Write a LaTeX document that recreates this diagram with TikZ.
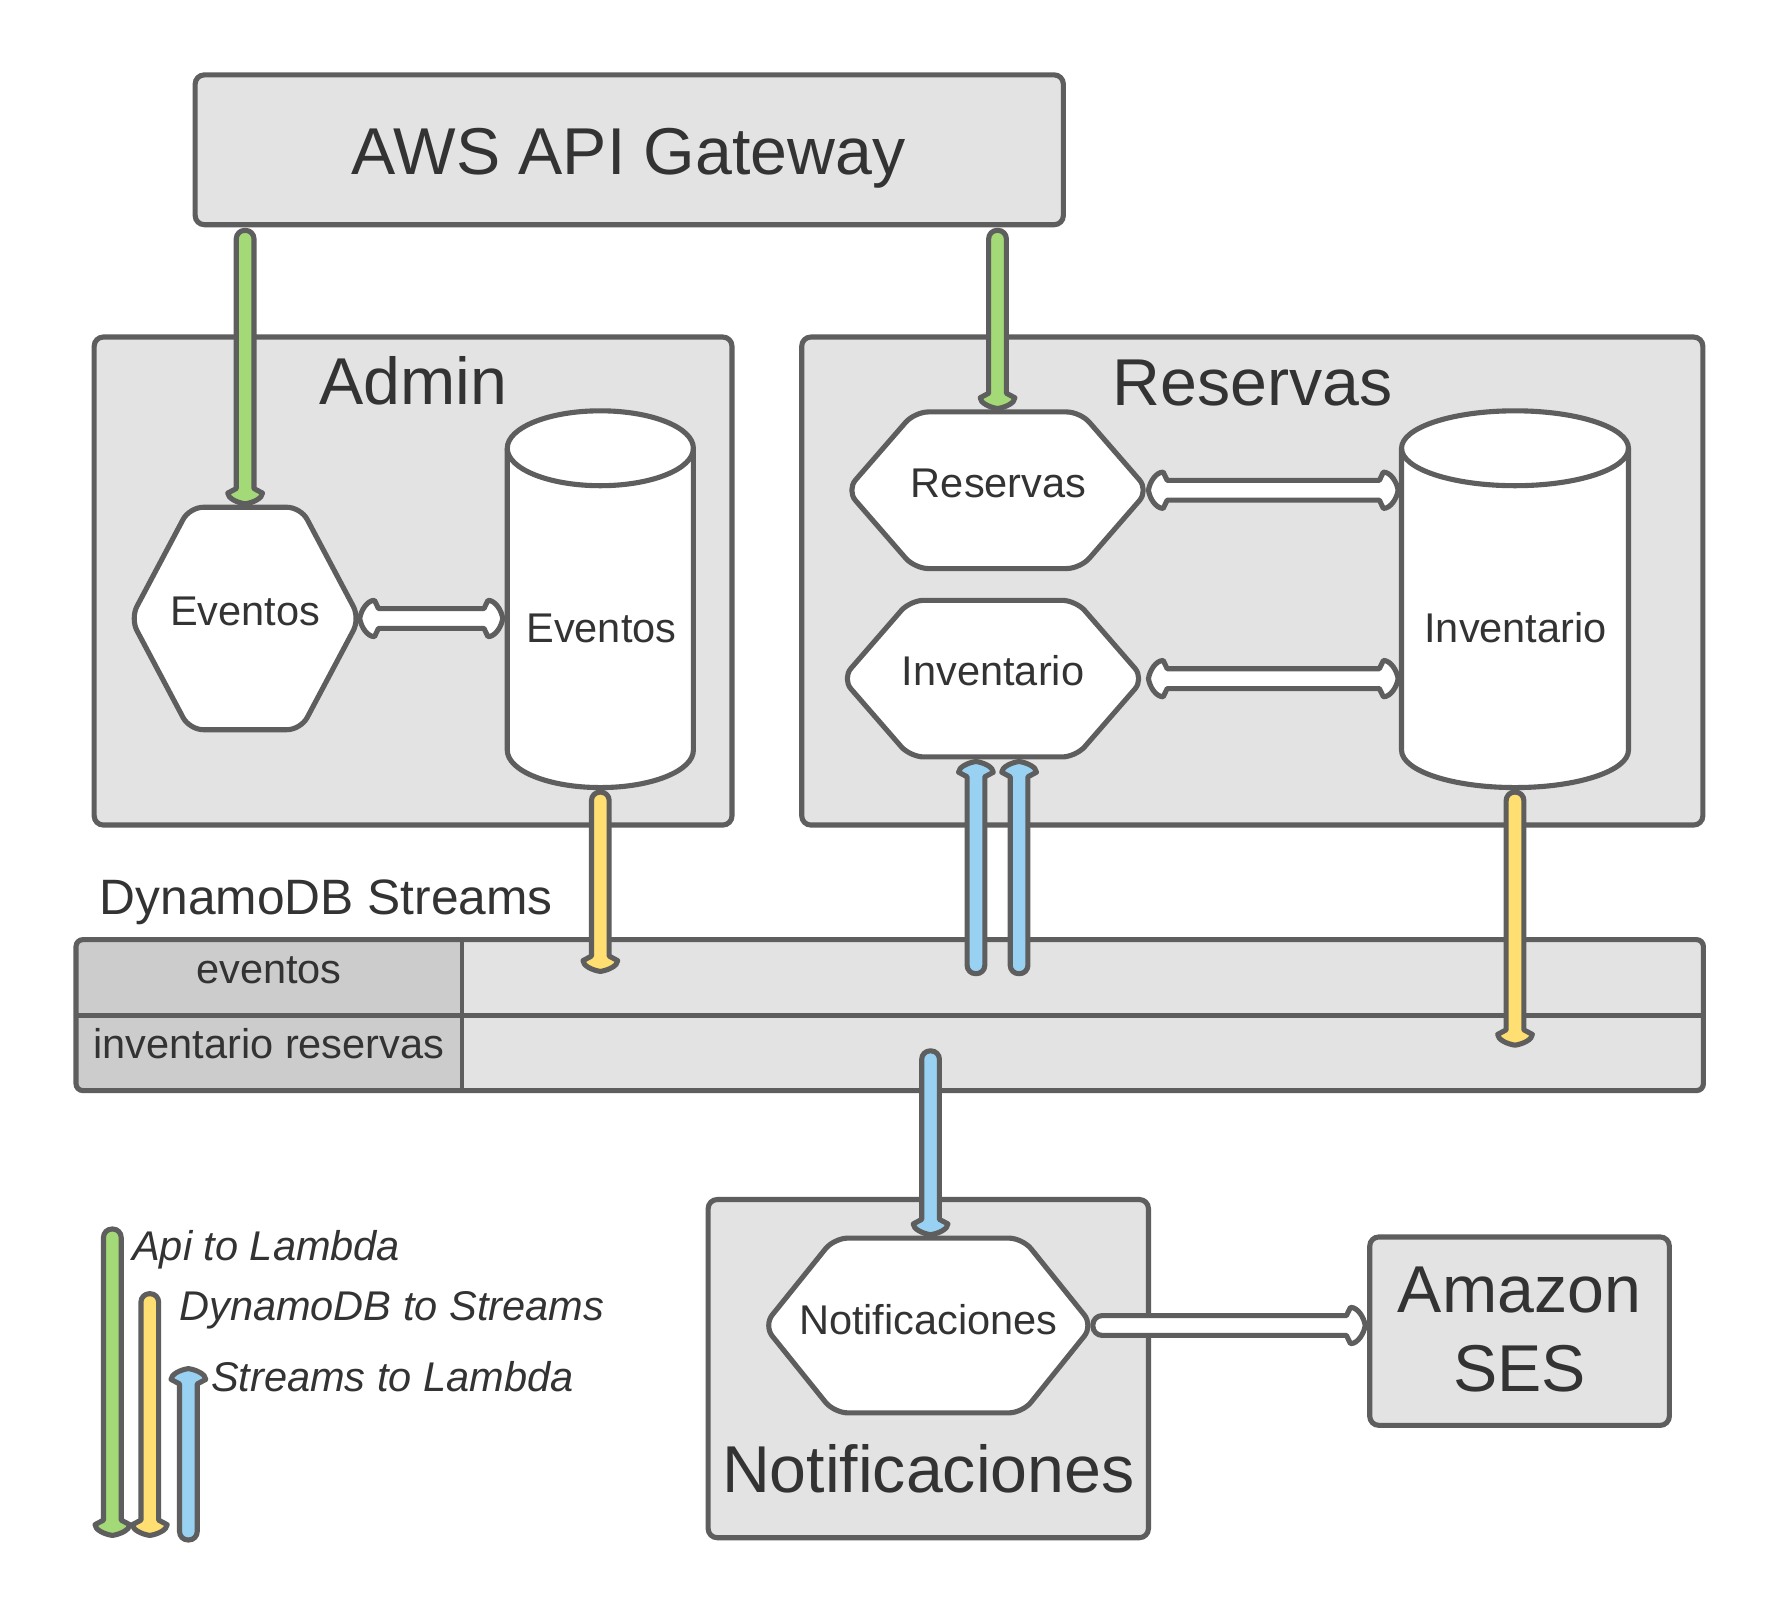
\documentclass[tikz,border=0pt]{standalone}
\usepackage{fontspec}
\setmainfont{Liberation Sans}
\usetikzlibrary{calc}
\definecolor{edgec}{HTML}{5E5E5E}
\definecolor{boxc}{HTML}{E3E3E3}
\definecolor{colc}{HTML}{CCCCCC}
\definecolor{txtc}{HTML}{333333}
\definecolor{greenc}{HTML}{A3D977}
\definecolor{yellowc}{HTML}{FFDF71}
\definecolor{bluec}{HTML}{99D1F3}
\newcommand\fbig{\fontsize{58.4}{70}\selectfont}
\newcommand\fmid{\fontsize{43.8}{52}\selectfont}
\newcommand\fsmall{\fontsize{36.6}{44}\selectfont}
\newcommand\hexdraw[5]{%
  \draw[hexst] ({#1-#3},#2) -- ({#1-#3+#5},{#2-#4}) -- ({#1+#3-#5},{#2-#4}) -- ({#1+#3},#2) -- ({#1+#3-#5},{#2+#4}) -- ({#1-#3+#5},{#2+#4}) -- cycle;}
\newcommand\cyldraw[5]{%
  \draw[cylst] ({#1-#4},#2) -- ({#1-#4},#3) arc[start angle=180,end angle=0,x radius=#4,y radius=#5] -- ({#1+#4},#2) arc[start angle=0,end angle=-180,x radius=#4,y radius=#5] -- cycle;
  \draw[cylst,fill=none] ({#1-#4},#2) arc[start angle=180,end angle=0,x radius=#4,y radius=#5];}
\begin{document}
\begin{tikzpicture}[x=1pt,y=-1pt,
  boxst/.style={draw=edgec, fill=boxc, line width=4.5pt, rounded corners=8pt, inner sep=0pt, outer sep=0pt},
  hexst/.style={draw=edgec, fill=white, line width=4.5pt, rounded corners=12pt, line join=round},
  cylst/.style={draw=edgec, fill=white, line width=4.5pt, line join=round},
  anch/.style={inner sep=0pt, outer sep=0pt, draw=none},
  lbl/.style={text=txtc, inner sep=0pt, outer sep=0pt, anchor=base},
  arrst/.style={draw=edgec, line width=4.5pt, line join=round},
  slimdims/.code={\def\ash{7.8pt}\def\ahw{15.3pt}\def\ahl{9.5pt}\def\ajn{13.5pt}\def\acd{5pt}\def\aco{7pt}\def\acr{7.4pt}},
  widedims/.code={\def\ash{8.75pt}\def\ahw{16pt}\def\ahl{13pt}\def\ajn{16.5pt}\def\acd{6.5pt}\def\aco{7pt}\def\acr{8.3pt}},
  fatone/.style={to path={
    ($(\tikztotarget)!\ajn!(\tikztostart)!\ash!-90:(\tikztostart)$)
    [rounded corners=\acr] -- ($(\tikztostart)!\ash!90:(\tikztotarget)$)
    -- ($(\tikztostart)!\ash!-90:(\tikztotarget)$)
    [sharp corners] -- ($(\tikztotarget)!\ajn!(\tikztostart)!\ash!90:(\tikztostart)$)
    -- ($(\tikztotarget)!\ahl!(\tikztostart)!\ahw!90:(\tikztostart)$)
    .. controls ($(\tikztotarget)!\acd!(\tikztostart)!\ahw!90:(\tikztostart)$) and ($(\tikztotarget)!1pt!(\tikztostart)!\aco!90:(\tikztostart)$) .. (\tikztotarget)
    .. controls ($(\tikztotarget)!1pt!(\tikztostart)!\aco!-90:(\tikztostart)$) and ($(\tikztotarget)!\acd!(\tikztostart)!\ahw!-90:(\tikztostart)$) .. ($(\tikztotarget)!\ahl!(\tikztostart)!\ahw!-90:(\tikztostart)$)
    -- cycle}},
  fattwo/.style={to path={
    (\tikztostart)
    .. controls ($(\tikztostart)!1pt!(\tikztotarget)!\aco!90:(\tikztotarget)$) and ($(\tikztostart)!\acd!(\tikztotarget)!\ahw!90:(\tikztotarget)$) .. ($(\tikztostart)!\ahl!(\tikztotarget)!\ahw!90:(\tikztotarget)$)
    -- ($(\tikztostart)!\ajn!(\tikztotarget)!\ash!90:(\tikztotarget)$)
    -- ($(\tikztotarget)!\ajn!(\tikztostart)!\ash!-90:(\tikztostart)$)
    -- ($(\tikztotarget)!\ahl!(\tikztostart)!\ahw!-90:(\tikztostart)$)
    .. controls ($(\tikztotarget)!\acd!(\tikztostart)!\ahw!-90:(\tikztostart)$) and ($(\tikztotarget)!1pt!(\tikztostart)!\aco!-90:(\tikztostart)$) .. (\tikztotarget)
    .. controls ($(\tikztotarget)!1pt!(\tikztostart)!\aco!90:(\tikztostart)$) and ($(\tikztotarget)!\acd!(\tikztostart)!\ahw!90:(\tikztostart)$) .. ($(\tikztotarget)!\ahl!(\tikztostart)!\ahw!90:(\tikztostart)$)
    -- ($(\tikztotarget)!\ajn!(\tikztostart)!\ash!90:(\tikztostart)$)
    -- ($(\tikztostart)!\ajn!(\tikztotarget)!\ash!-90:(\tikztotarget)$)
    -- ($(\tikztostart)!\ahl!(\tikztotarget)!\ahw!-90:(\tikztotarget)$)
    .. controls ($(\tikztostart)!\acd!(\tikztotarget)!\ahw!-90:(\tikztotarget)$) and ($(\tikztostart)!1pt!(\tikztotarget)!\aco!-90:(\tikztotarget)$) .. (\tikztostart)
    -- cycle}},
  slimarrow/.style={arrst, slimdims, fatone},
  whitearrow/.style={arrst, fill=white, widedims, fatone},
  whitedouble/.style={arrst, fill=white, widedims, fattwo}
]
\useasboundingbox (0,0) rectangle (1565,1421);
\fill[white] (0,0) rectangle (1565,1421);

% containers
\node[boxst, minimum width=765pt, minimum height=132pt] (gw) at (554.5,132) {};
\node[lbl, font=\fbig] (gwt) at (554,154) {AWS API Gateway};
\node[boxst, minimum width=562pt, minimum height=430pt] (admin) at (364,512) {};
\node[lbl, font=\fbig] (admint) at (364.5,356.5) {Admin};
\node[boxst, minimum width=794pt, minimum height=430pt] (resv) at (1103.5,512) {};
\node[lbl, font=\fbig] (resvt) at (1104,357) {Reservas};
\node[boxst, minimum width=388pt, minimum height=298pt] (notif) at (818,1206) {};
\node[lbl, font=\fbig] (notift) at (818,1315.5) {Notificaciones};
\node[boxst, minimum width=264pt, minimum height=166pt] (ses) at (1339,1173) {};
\node[lbl, font=\fbig] (sest1) at (1339,1156.5) {Amazon};
\node[lbl, font=\fbig] (sest2) at (1339,1226) {SES};

% lambdas (hexagons)
\hexdraw{216}{545}{101}{98}{52}
\node[anch, minimum width=194pt, minimum height=196pt] (evh) at (216,545) {};
\node[lbl, font=\fsmall] (evht) at (216,551) {Eventos};
\hexdraw{879}{432}{133}{69}{60}
\node[anch, minimum width=258pt, minimum height=138pt] (resh) at (879,432) {};
\node[lbl, font=\fsmall] (resht) at (880,438) {Reservas};
\hexdraw{875}{598}{133}{69}{60}
\node[anch, minimum width=258pt, minimum height=138pt] (invh) at (875,598) {};
\node[lbl, font=\fsmall] (invht) at (875,604) {Inventario};
\hexdraw{818}{1168}{145}{77}{62}
\node[anch, minimum width=282pt, minimum height=154pt] (noth) at (818,1168) {};
\node[lbl, font=\fsmall] (notht) at (818,1176) {Notificaciones};

% tables (cylinders)
\cyldraw{529}{395}{661}{82}{33}
\node[anch, minimum width=164pt, minimum height=332pt] (evc) at (529,528) {};
\node[lbl, font=\fsmall] (evct) at (530,566) {Eventos};
\cyldraw{1335}{395}{661}{100}{33}
\node[anch, minimum width=200pt, minimum height=332pt] (invc) at (1335,528) {};
\node[lbl, font=\fsmall] (invct) at (1335.5,566) {Inventario};

% DynamoDB Streams table
\node[lbl, anchor=base west, font=\fmid] (dst) at (88,806) {DynamoDB Streams};
\begin{scope}
  \clip[rounded corners=6pt] (67,828) rectangle (1501,961);
  \fill[boxc] (67,828) rectangle (1501,961);
  \fill[colc] (67,828) rectangle (407,961);
\end{scope}
\node[anch, minimum width=1434pt, minimum height=133pt] (tbl) at (784,894.5) {};
\draw[edgec, line width=4.5pt, rounded corners=6pt] (tbl.north west) rectangle (tbl.south east);
\draw[edgec, line width=4.5pt] (tbl.west) -- (tbl.east);
\draw[edgec, line width=3pt] (407,828) -- (407,961);
\node[lbl, font=\fsmall] (row1) at (237,867) {eventos};
\node[lbl, font=\fsmall] (row2) at (237,933) {inventario reservas};

% free ends of connectors
\coordinate (t1) at (529,856);
\coordinate (t2) at (1335,921);
\coordinate (s1) at (860,858);
\coordinate (s2) at (898,858);
\coordinate (s3) at (820,926);

% connectors
\draw[slimarrow, fill=greenc] ($(gw.south -| evh.north)+(0,5)$) to ($(evh.north)+(0,-3)$);
\draw[slimarrow, fill=greenc] ($(gw.south -| resh.north)+(0,5)$) to ($(resh.north)+(0,-3)$);
\draw[slimarrow, fill=yellowc] ($(evc.south)+(0,4)$) to (t1);
\draw[slimarrow, fill=yellowc] ($(invc.south)+(0,4)$) to (t2);
\draw[slimarrow, fill=bluec] (s1) to ($(invh.south -| s1)+(0,4)$);
\draw[slimarrow, fill=bluec] (s2) to ($(invh.south -| s2)+(0,4)$);
\draw[slimarrow, fill=bluec] (s3) to ($(noth.north -| s3)+(0,-3)$);
\draw[whitedouble] ($(evh.east)+(4,0)$) to ($(evc.west |- evh.east)+(-4,0)$);
\draw[whitedouble] ($(resh.east)+(4,0)$) to ($(invc.west |- resh.east)+(-3,0)$);
\draw[whitedouble] ($(invh.east)+(8,0)$) to ($(invc.west |- invh.east)+(-3,0)$);
\draw[whitearrow] ($(noth.east)+(4,0)$) to ($(ses.west |- noth.east)+(-4,0)$);

% legend
\coordinate (l1a) at (99,1083);
\coordinate (l1b) at (99,1353);
\coordinate (l2a) at (132,1140);
\coordinate (l2b) at (132,1353);
\coordinate (l3a) at (166,1357);
\coordinate (l3b) at (166,1206);
\draw[slimarrow, fill=greenc] (l1a) to (l1b);
\draw[slimarrow, fill=yellowc] (l2a) to (l2b);
\draw[slimarrow, fill=bluec] (l3a) to (l3b);
\node[lbl, anchor=base west, font=\fsmall\itshape] (leg1) at (116.5,1110.5) {Api to Lambda};
\node[lbl, anchor=base west, font=\fsmall\itshape] (leg2) at (158,1164) {DynamoDB to Streams};
\node[lbl, anchor=base west, font=\fsmall\itshape] (leg3) at (186,1226) {Streams to Lambda};
\end{tikzpicture}
\end{document}
